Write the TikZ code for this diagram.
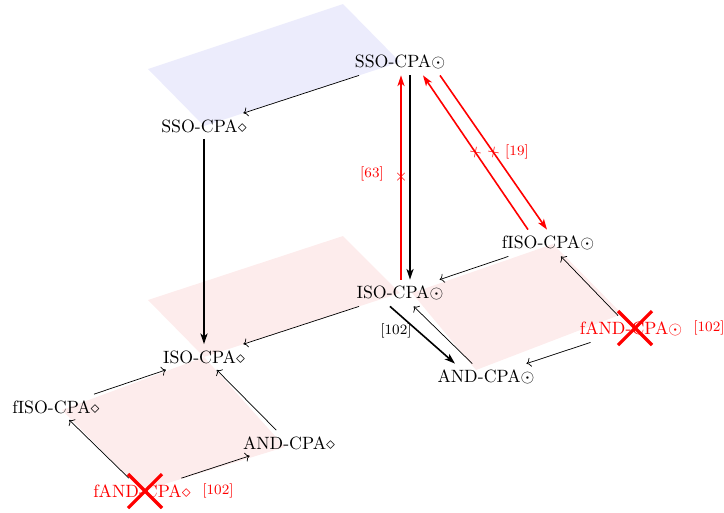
\documentclass[tikz,border=0pt]{standalone}
\usetikzlibrary{arrows.meta,calc}
\definecolor{planeblue}{RGB}{236,236,252}
\definecolor{planepink}{RGB}{253,236,236}
\begin{document}
\begin{tikzpicture}[x=0.5618pt,y=-0.5618pt,
  st/.style={inner sep=3.33pt, font=\normalsize},
  refl/.style={inner sep=1pt, font=\footnotesize},
  thinarr/.style={->, line width=0.4pt},
  thickarr/.style={-{Stealth[length=6pt,width=4pt,inset=1.6pt]}, line width=0.9pt},
  redarr/.style={-{Stealth[length=6pt,width=4pt,inset=1.6pt]}, line width=0.9pt, red},
  xmark/.style={pos=0.5, sloped, text=red, inner sep=0pt, font=\small},
  bigx/.style={red, line width=1.8pt}]
\useasboundingbox (0,0) rectangle (724,512);
% planes
\fill[planeblue] (148,69) -- (343,4) -- (400,62) -- (204,126) -- cycle;
\fill[planepink] (148,300) -- (343,236) -- (400,293) -- (204,357) -- cycle;
\fill[planepink] (412,293) -- (553,244) -- (622,314) -- (476,370) -- cycle;
\fill[planepink] (62,410) -- (204,357) -- (285,447) -- (142,491) -- cycle;
% nodes
\node[st] (ssoo) at (400,62) {SSO-CPA$\odot$};
\node[st] (ssod) at (204,126) {SSO-CPA$\diamond$};
\node[st] (isoo) at (400,293) {ISO-CPA$\odot$};
\node[st] (isod) at (204,357) {ISO-CPA$\diamond$};
\node[st] (fisoo) at (548,243) {fISO-CPA$\odot$};
\node[st] (fisod) at (56,407) {fISO-CPA$\diamond$};
\node[st] (ando) at (486,377) {AND-CPA$\odot$};
\node[st] (andd) at (289,443) {AND-CPA$\diamond$};
\node[st,text=red] (fando) at (631,329) {fAND-CPA$\odot$};
\node[st,text=red] (fandd) at (142,491) {fAND-CPA$\diamond$};
% reference labels
\node[refl,text=red] (r63) at (372,174) {[63]};
\node[refl,text=red] (r19) at (517,152) {[19]};
\node[refl,text=red] (r102a) at (709,328) {[102]};
\node[refl,text=red] (r102b) at (218,491) {[102]};
\node[refl] (r102c) at (396,331) {[102]};
% top plane
\draw[thinarr] (ssoo) -- (ssod);
\draw[thickarr] (ssod) -- (isod);
\draw[thickarr] ($(ssoo.south)+(10,0)$) -- ($(isoo.north)+(10,0)$);
\draw[redarr] ($(isoo.north)+(1,0)$) -- ($(ssoo.south)+(1,0)$) node[xmark] {$\times$};
\draw[redarr] ($(fisoo.north)+(-20,0)$) -- ($(ssoo.south)+(23,0)$) node[xmark] {$\times$};
\draw[redarr] ($(ssoo.south)+(40,0)$) -- ($(fisoo.north)+(-1,0)$) node[xmark] {$\times$};
% middle
\draw[thinarr] (isoo) -- (isod);
\draw[thinarr] (fisoo) -- (isoo);
\draw[thinarr] (fando) -- (fisoo);
\draw[thinarr] (fando) -- (ando);
\draw[thinarr] (ando) -- (isoo);
\draw[thickarr] ($(isoo.south)+(-10,0)$) -- ($(ando.north)+(-31,0)$);
% bottom
\draw[thinarr] (fisod) -- (isod);
\draw[thinarr] (andd) -- (isod);
\draw[thinarr] (fandd) -- (fisod);
\draw[thinarr] (fandd) -- (andd);
% crosses
\draw[bigx] ($(fando)+(-13,-18)$) -- ($(fando)+(21,16)$);
\draw[bigx] ($(fando)+(-13,16)$) -- ($(fando)+(21,-18)$);
\draw[bigx] ($(fandd)+(-14,-17)$) -- ($(fandd)+(20,17)$);
\draw[bigx] ($(fandd)+(-14,17)$) -- ($(fandd)+(20,-17)$);
\end{tikzpicture}
\end{document}
